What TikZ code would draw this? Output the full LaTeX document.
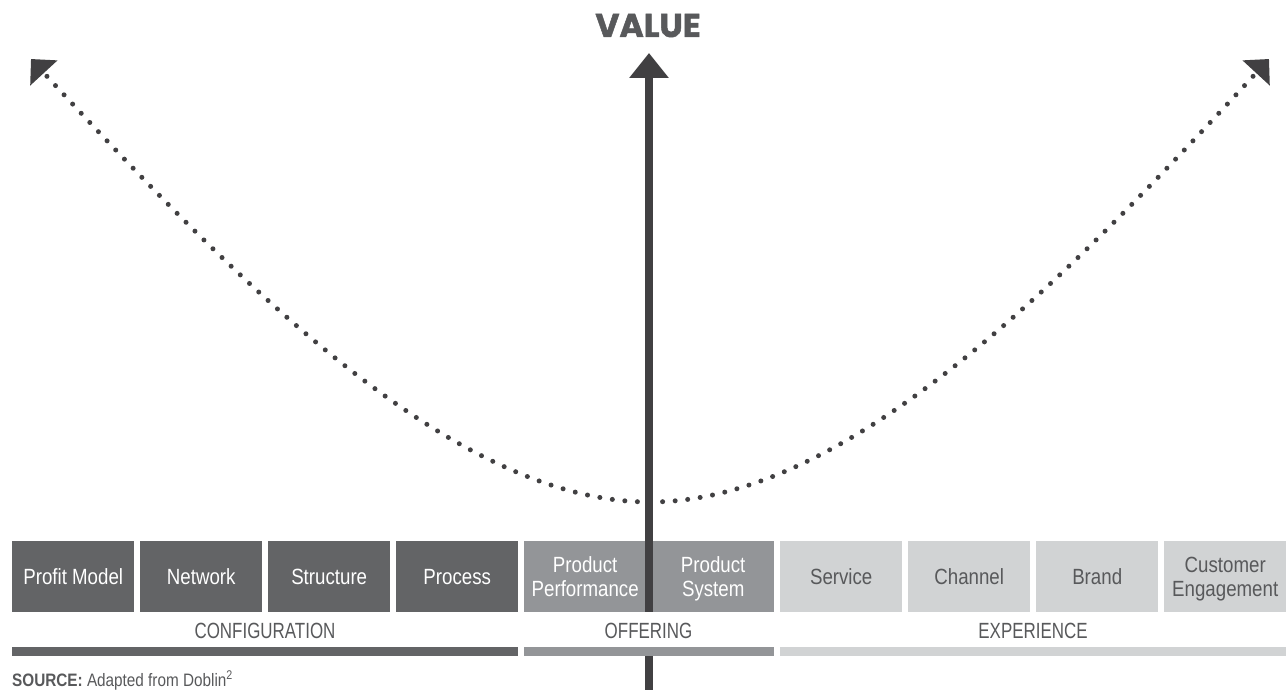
\documentclass[tikz,border=0pt]{standalone}
\usepackage{fontspec}
\setmainfont{Liberation Sans}
\newfontfamily\boxfont[FakeStretch=0.85]{Liberation Sans}
\newfontfamily\catfont[FakeStretch=0.77]{Liberation Sans}
\newfontfamily\valfont[BoldFeatures={FakeBold=1.5}]{Poppins}
\usetikzlibrary{arrows.meta}
\definecolor{cdark}{HTML}{636466}
\definecolor{cmid}{HTML}{939598}
\definecolor{clight}{HTML}{D1D3D4}
\definecolor{ctext}{HTML}{58595B}
\definecolor{carrow}{HTML}{414042}
\begin{document}
\begin{tikzpicture}[x=1pt,y=-1pt,
  cell/.style={anchor=north west, minimum width=122pt, minimum height=71pt, inner sep=0pt,
    align=center, text depth=0pt, font=\boxfont\fontsize{22}{24}\selectfont},
  darkcell/.style={cell, fill=cdark, text=white},
  midcell/.style={cell, fill=cmid, text=white},
  lightcell/.style={cell, fill=clight, text=ctext},
  catlabel/.style={anchor=base, inner sep=0pt, text=ctext, font=\catfont\fontsize{22}{24}\selectfont},
  barbox/.style={anchor=north west, minimum height=9pt, inner sep=0pt},
  dotline/.style={draw=carrow, line width=5pt, line cap=round, dash pattern=on 0pt off 12.6pt,
    -{Triangle[length=19pt,width=36pt]}},
  valarrow/.style={draw=carrow, line width=8pt, -{Triangle[length=25pt,width=38pt]}},
]
\useasboundingbox (0,0) rectangle (1286,690);

% dotted value curve
\coordinate (cbot) at (650,502);
\coordinate (ctipl) at (31,59);
\coordinate (ctipr) at (1269,59);
\draw[dotline] (cbot) .. controls (450,502) and (230,275) .. (ctipl);
\draw[dotline] (cbot) .. controls (850,502) and (1070,275) .. (ctipr);

% boxes
\node[darkcell] (pm) at (12,541) {Profit Model};
\node[darkcell] (nw) at (140,541) {Network};
\node[darkcell] (st) at (268,541) {Structure};
\node[darkcell] (pr) at (396,541) {Process};
\node[midcell] (pp) at (524,541) {Product\\Performance};
\node[midcell] (ps) at (652,541) {Product\\System};
\node[lightcell] (sv) at (780,541) {Service};
\node[lightcell] (ch) at (908,541) {Channel};
\node[lightcell] (br) at (1036,541) {Brand};
\node[lightcell] (ce) at (1164,541) {Customer\\Engagement};

% vertical value arrow
\coordinate (vbot) at (649,700);
\coordinate (vtop) at (649,53);
\draw[valarrow] (vbot) -- (vtop);
\node[anchor=base, inner sep=0pt, text=ctext, font=\valfont\bfseries\fontsize{33}{33}\selectfont] (val) at (648,37) {VALUE};

% label band and bars
\fill[white] (12,612) rectangle (1286,647);
\node[catlabel] (conf) at (265,638) {CONFIGURATION};
\node[catlabel] (off) at (648.5,638) {OFFERING};
\node[catlabel] (exp) at (1033,638) {EXPERIENCE};
\node[barbox, fill=cdark, minimum width=506pt] (bconf) at (12,647) {};
\node[barbox, fill=cmid, minimum width=250pt] (boff) at (524,647) {};
\node[barbox, fill=clight, minimum width=506pt] (bexp) at (780,647) {};

% source
\node[anchor=base west, inner sep=0pt, text=ctext, font=\boxfont\fontsize{18}{20}\selectfont] (src) at (12,686)
  {\textbf{SOURCE:} Adapted from Doblin\textsuperscript{2}};
\end{tikzpicture}
\end{document}
